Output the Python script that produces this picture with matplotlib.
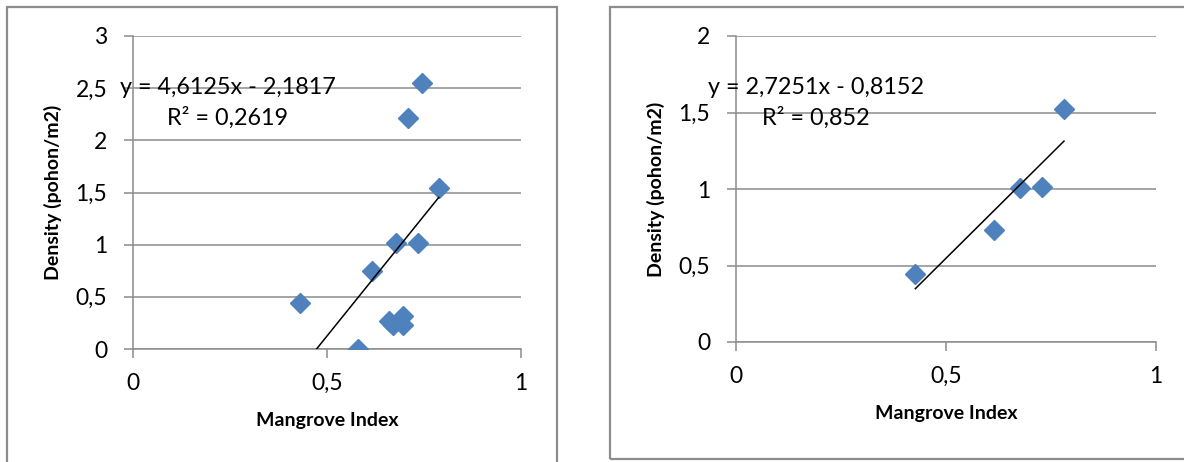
import matplotlib
matplotlib.use('Agg')
import matplotlib.pyplot as plt
from matplotlib.patches import Rectangle
from matplotlib.ticker import FuncFormatter

plt.rcParams['font.family'] = ['Lato', 'DejaVu Sans']

# left chart: all stations
mi_all = [0.43, 0.581, 0.616, 0.678, 0.734, 0.788, 0.745, 0.71, 0.661, 0.671, 0.696, 0.696]
dens_all = [0.44, 0.0, 0.745, 1.016, 1.016, 1.54, 2.55, 2.21, 0.27, 0.23, 0.32, 0.23]
slope_all, icpt_all, r2_all = 4.6125, -2.1817, 0.2619

# right chart: subset
mi_sub = [0.427, 0.614, 0.677, 0.729, 0.781]
dens_sub = [0.442, 0.735, 1.009, 1.013, 1.52]
slope_sub, icpt_sub, r2_sub = 2.7251, -0.8152, 0.852

W, H = 1184, 462
GRID = '#8c8c8c'
BLUE = '#4F81BD'

fig = plt.figure(figsize=(W / 100, H / 100), dpi=100)

# chart area frames
fig.patches.append(Rectangle((7 / W, -0.05), (557 - 7) / W, 1.05 - 7 / H,
                             transform=fig.transFigure, fill=False,
                             edgecolor=GRID, lw=1.6))
fig.patches.append(Rectangle((610 / W, (H - 459) / H), 1.0, (459 - 7) / H,
                             transform=fig.transFigure, fill=False,
                             edgecolor=GRID, lw=1.6))


def comma(v, pos):
    s = ('%g' % v).replace('.', ',')
    return s


def make_chart(box, x, y, slope, icpt, r2, ymax, eq_xy, r2_xy):
    l, r, t, b = box
    ax = fig.add_axes([l / W, (H - b) / H, (r - l) / W, (b - t) / H])
    ax.set_xlim(0, 1)
    ax.set_ylim(0, ymax)
    ax.set_xticks([0, 0.5, 1])
    ax.set_yticks([i * 0.5 for i in range(int(ymax * 2) + 1)])
    ax.xaxis.set_major_formatter(FuncFormatter(comma))
    ax.yaxis.set_major_formatter(FuncFormatter(comma))
    ax.grid(axis='y', color=GRID, lw=1.1)
    ax.set_axisbelow(True)
    for s in ['top', 'right']:
        ax.spines[s].set_visible(False)
    for s in ['left', 'bottom']:
        ax.spines[s].set_color(GRID)
        ax.spines[s].set_linewidth(1.1)
    ax.tick_params(axis='both', direction='out', length=6.5, width=1.1,
                   color=GRID, labelsize=16.5, labelcolor='black')
    ax.tick_params(axis='y', pad=12)
    ax.tick_params(axis='x', pad=11)
    ax.set_xlabel('Mangrove Index', fontsize=14, fontweight='bold', labelpad=13)
    ax.set_ylabel('Density (pohon/m2)', fontsize=14, fontweight='bold', labelpad=10)

    ax.plot(x, y, linestyle='none', marker='D', ms=10.5, color=BLUE, zorder=3)
    x0, x1 = min(x), max(x)
    ax.plot([x0, x1], [slope * x0 + icpt, slope * x1 + icpt], color='black',
            lw=1.1, zorder=4)
    ax.text(eq_xy[0] / W, (H - eq_xy[1]) / H,
            'y = %sx - %s' % (('%g' % slope).replace('.', ','),
                              ('%g' % -icpt).replace('.', ',')),
            transform=fig.transFigure, fontsize=16.8, va='center', ha='left')
    ax.text(r2_xy[0] / W, (H - r2_xy[1]) / H,
            'R² = %s' % ('%g' % r2).replace('.', ','),
            transform=fig.transFigure, fontsize=16.8, va='center', ha='left')
    return ax


make_chart((133, 521, 36, 349), mi_all, dens_all, slope_all, icpt_all, r2_all,
           3, (120, 88), (167, 118))
make_chart((736, 1156, 36, 342), mi_sub, dens_sub, slope_sub, icpt_sub, r2_sub,
           2, (708, 88), (762, 118))

fig.savefig('out.png', dpi=100)
